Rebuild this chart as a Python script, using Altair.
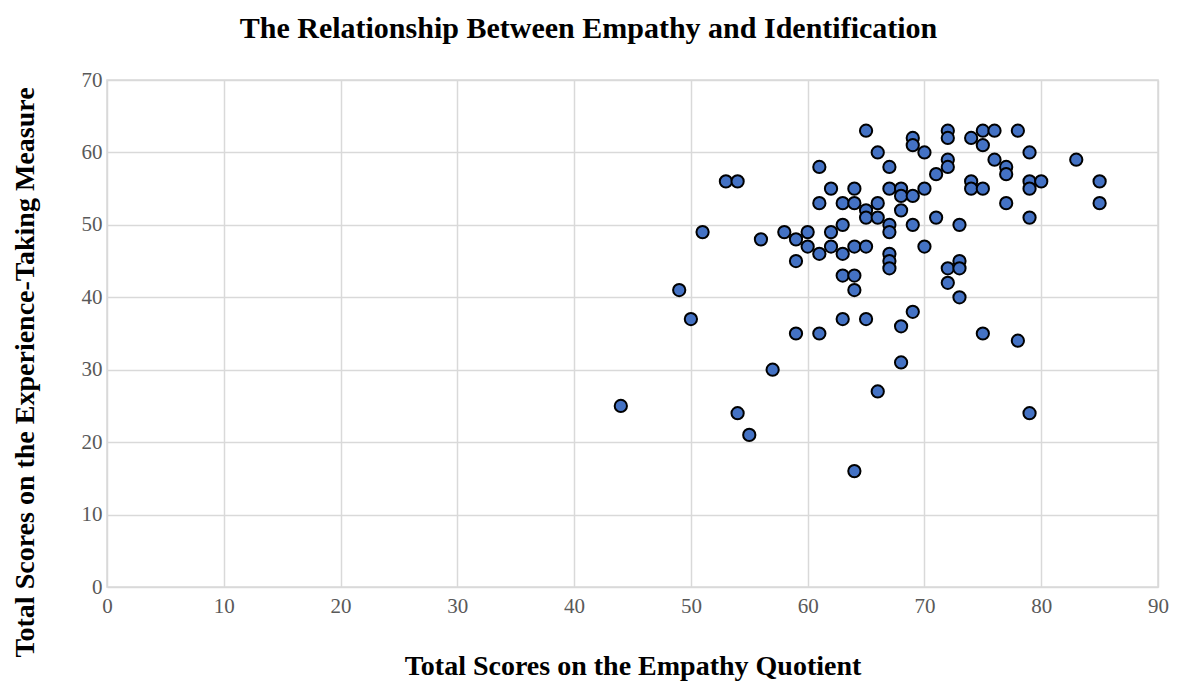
import altair as alt
import pandas as pd

empathy = [44, 49, 50, 51, 53, 54, 54, 55, 56, 57, 58,
           59, 59, 59, 60, 60, 61, 61, 61, 61, 62, 62, 62,
           63, 63, 63, 63, 63, 64, 64, 64, 64, 64, 64,
           65, 65, 65, 65, 65, 66, 66, 66, 66,
           67, 67, 67, 67, 67, 67, 67, 68, 68, 68, 68, 68,
           69, 69, 69, 69, 69, 70, 70, 70, 71, 71,
           72, 72, 72, 72, 72, 72, 73, 73, 73, 73, 74, 74, 74,
           75, 75, 75, 75, 76, 76, 77, 77, 77, 78, 78,
           79, 79, 79, 79, 79, 80, 83, 85, 85]
experience = [25, 41, 37, 49, 56, 56, 24, 21, 48, 30, 49,
              48, 45, 35, 49, 47, 58, 53, 46, 35, 55, 49, 47,
              53, 50, 46, 43, 37, 55, 53, 47, 43, 41, 16,
              63, 52, 51, 47, 37, 60, 53, 51, 27,
              58, 55, 50, 49, 46, 45, 44, 55, 54, 52, 36, 31,
              62, 61, 54, 50, 38, 60, 55, 47, 57, 51,
              63, 62, 59, 58, 44, 42, 50, 45, 44, 40, 62, 56, 55,
              63, 61, 55, 35, 63, 59, 58, 57, 53, 63, 34,
              60, 56, 55, 51, 24, 56, 59, 56, 53]

df = pd.DataFrame({"eq": empathy, "et": experience})

font = "Liberation Serif"

chart = alt.Chart(df).mark_circle(
    size=150, color="#4472C4", opacity=1, stroke="black", strokeWidth=2
).encode(
    x=alt.X("eq:Q", scale=alt.Scale(domain=[0, 90], nice=False),
            axis=alt.Axis(values=list(range(0, 91, 10)), title="Total Scores on the Empathy Quotient",
                          titlePadding=36, labelPadding=8)),
    y=alt.Y("et:Q", scale=alt.Scale(domain=[0, 70], nice=False),
            axis=alt.Axis(values=list(range(0, 71, 10)), title="Total Scores on the Experience-Taking Measure",
                          labelPadding=5,
                          titleX=-82, titleY=292, titleAngle=270, titleAlign="center", titleBaseline="middle")),
).properties(
    width=1051, height=507,
    title=alt.TitleParams("The Relationship Between Empathy and Identification",
                          font=font, fontSize=30, fontWeight="bold", color="black",
                          anchor="middle", dx=-44, offset=25),
    autosize=alt.AutoSizeParams(type="none"),
    padding={"left": 99, "top": 72, "right": 13, "bottom": 97},
).configure_axis(
    labelFont=font, labelFontSize=21, labelColor="#595959", labelFlush=False,
    titleFont=font, titleFontSize=28, titleFontWeight="bold", titleColor="black",
    grid=True, gridColor="#d9d9d9", gridWidth=1.5,
    domain=False, ticks=False,
).configure_view(stroke="#d9d9d9", strokeWidth=1.5)

chart.save("out.html", embed_options={"renderer": "svg", "actions": False})
